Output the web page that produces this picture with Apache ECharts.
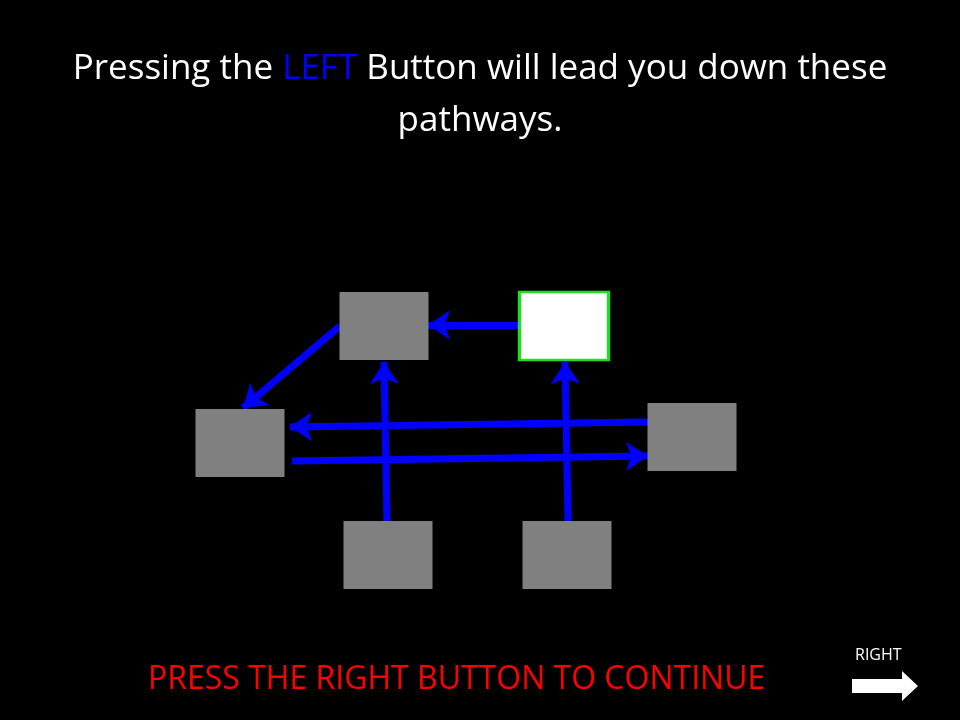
<!DOCTYPE html>
<html>
<head>
<meta charset="utf-8">
<script src="https://cdn.jsdelivr.net/npm/echarts@6/dist/echarts.min.js"></script>
<style>html,body{margin:0;padding:0;background:#000}#main{width:960px;height:720px}</style>
</head>
<body>
<div id="main"></div>
<script>
// boxes: [cx, cy, fill]
var boxNames = ['A', 'B', 'C', 'D', 'E', 'F'];
var boxCenters = [[384, 326], [564, 326], [240, 443], [692, 437], [388, 555], [567, 555]];
var boxFills = ['#808080', '#ffffff', '#808080', '#808080', '#808080', '#808080'];
// arrows: [from, to]
var arrows = [
  [[519, 325], [428, 325]],
  [[340, 326], [243, 408]],
  [[648, 422], [290, 427]],
  [[292, 461], [648, 456]],
  [[387, 521], [384, 362]],
  [[568, 521], [565, 362]]
];

var chart = echarts.init(document.getElementById('main'));
chart.setOption({
  backgroundColor: '#000',
  animation: false,
  grid: { left: 0, right: 0, top: 0, bottom: 0 },
  xAxis: { type: 'value', min: 0, max: 960, show: false },
  yAxis: { type: 'value', min: 0, max: 720, inverse: true, show: false },
  series: [
    {
      type: 'scatter',
      symbol: 'rect',
      symbolSize: [89, 68],
      data: boxCenters.map(function (c, i) {
        return {
          name: boxNames[i],
          value: c,
          itemStyle: {
            color: boxFills[i],
            opacity: 1,
            borderColor: i === 1 ? '#22dd22' : 'transparent',
            borderWidth: i === 1 ? 3 : 0
          }
        };
      })
    },
    {
      type: 'lines',
      coordinateSystem: 'cartesian2d',
      symbol: ['none', 'arrow'],
      symbolSize: 22,
      lineStyle: { color: '#0000ff', width: 7, opacity: 1, curveness: 0 },
      data: arrows.map(function (a) { return { coords: a }; })
    }
  ],
  graphic: [
    {
      type: 'text', left: 'center', top: 52,
      style: {
        text: '{w|Pressing the }{b|LEFT}{w| Button will lead you down these}',
        rich: {
          w: { fill: '#fff', font: '35px "Open Sans", sans-serif' },
          b: { fill: '#0000ff', font: '35px "Open Sans", sans-serif' }
        }
      }
    },
    {
      type: 'text', left: 'center', top: 104,
      style: { text: 'pathways.', fill: '#fff', font: '35px "Open Sans", sans-serif' }
    },
    {
      type: 'text', left: 148, top: 664,
      style: { text: 'PRESS THE RIGHT BUTTON TO CONTINUE', fill: '#ff0000', font: '32px "Open Sans", sans-serif' }
    },
    {
      type: 'text', left: 855, top: 647,
      style: { text: 'RIGHT', fill: '#fff', font: '16px "Open Sans", sans-serif' }
    },
    {
      type: 'polygon',
      shape: { points: [[852, 679], [902, 679], [902, 671], [918, 686], [902, 701], [902, 693], [852, 693]] },
      style: { fill: '#fff' }
    }
  ]
});
</script>
</body>
</html>
